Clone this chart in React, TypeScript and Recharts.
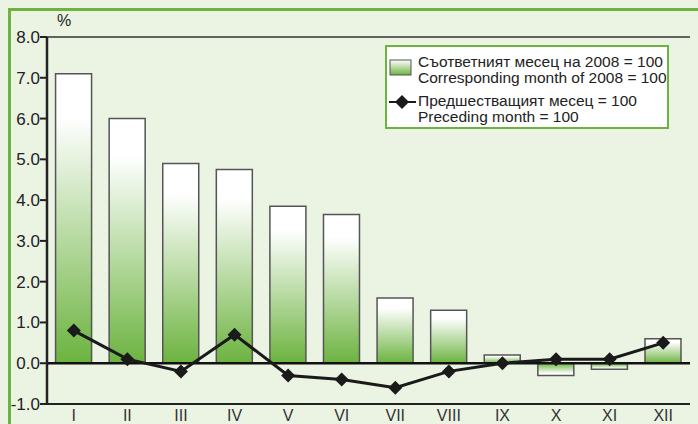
import { Bar, Cell, ComposedChart, CartesianGrid, Line, ReferenceLine, XAxis, YAxis } from 'recharts';

const months = ['I', 'II', 'III', 'IV', 'V', 'VI', 'VII', 'VIII', 'IX', 'X', 'XI', 'XII'];
const corresponding = [7.1, 6.0, 4.9, 4.75, 3.85, 3.65, 1.6, 1.3, 0.2, -0.3, -0.15, 0.6];
const preceding = [0.8, 0.1, -0.2, 0.7, -0.3, -0.4, -0.6, -0.2, 0.0, 0.1, 0.1, 0.5];
const yTicks = [-1, 0, 1, 2, 3, 4, 5, 6, 7, 8];

const legendBg = 'Съответният месец на 2008 = 100';
const legendEn = 'Corresponding month of 2008 = 100';
const legendBg2 = 'Предшестващият месец = 100';
const legendEn2 = 'Preceding month = 100';

const chartData = months.map((m, i) => ({ month: m, corr: corresponding[i], prev: preceding[i] }));

const GREEN = '#6cb33f';
const FONT = '"Liberation Sans", Arial, sans-serif';

function Diamond(props: any) {
  const { cx, cy } = props;
  if (cx == null || cy == null) return null;
  const r = 7;
  return <polygon points={`${cx},${cy - r} ${cx + r},${cy} ${cx},${cy + r} ${cx - r},${cy}`} fill="#1a1a1a" />;
}

function LegendBox() {
  return (
    <div
      style={{
        position: 'absolute',
        left: 385,
        top: 45,
        width: 280,
        height: 80,
        background: '#fff',
        border: `2px solid ${GREEN}`,
        fontFamily: FONT,
        fontSize: 15.5,
        color: '#222',
        lineHeight: '16px',
      }}
    >
      <svg width={32} height={80} style={{ position: 'absolute', left: 0, top: 0 }}>
        <defs>
          <linearGradient id="lg" x1="0" y1="0" x2="0" y2="1">
            <stop offset="0%" stopColor="#ffffff" />
            <stop offset="100%" stopColor={GREEN} />
          </linearGradient>
        </defs>
        <rect x={3} y={13} width={21} height={15} fill="url(#lg)" stroke="#555" strokeWidth={1} />
        <line x1={2} y1={55} x2={29} y2={55} stroke="#1a1a1a" strokeWidth={2} />
        <polygon points="15,48 22,55 15,62 8,55" fill="#1a1a1a" />
      </svg>
      <div style={{ position: 'absolute', left: 31, top: 7, whiteSpace: 'nowrap' }}>
        <div>{legendBg}</div>
        <div>{legendEn}</div>
      </div>
      <div style={{ position: 'absolute', left: 31, top: 46, whiteSpace: 'nowrap' }}>
        <div>{legendBg2}</div>
        <div>{legendEn2}</div>
      </div>
    </div>
  );
}

export default function App() {
  return (
    <div
      style={{
        position: 'absolute',
        left: 0,
        top: 0,
        width: 698,
        height: 424,
        background: '#ebf3e3',
        overflow: 'hidden',
        fontFamily: FONT,
      }}
    >
      <div
        style={{
          position: 'absolute',
          left: 8,
          top: 8,
          width: 700,
          height: 430,
          borderTop: `3px solid ${GREEN}`,
          borderLeft: `3px solid ${GREEN}`,
        }}
      />
      <div style={{ position: 'absolute', left: 57, top: 12, fontSize: 16, color: '#222' }}>%</div>
      <ComposedChart
        width={698}
        height={424}
        data={chartData}
        margin={{ top: 37, right: 8, bottom: 0, left: 7 }}
        barCategoryGap="16%"
        style={{ position: 'absolute', left: 0, top: 0 }}
      >
        <defs>
          <linearGradient id="gUp" x1="0" y1="0" x2="0" y2="1">
            <stop offset="0%" stopColor="#ffffff" />
            <stop offset="15%" stopColor="#ffffff" />
            <stop offset="100%" stopColor={GREEN} />
          </linearGradient>
          <linearGradient id="gDown" x1="0" y1="1" x2="0" y2="0">
            <stop offset="0%" stopColor="#ffffff" />
            <stop offset="15%" stopColor="#ffffff" />
            <stop offset="100%" stopColor={GREEN} />
          </linearGradient>
        </defs>
        <CartesianGrid vertical={false} stroke="#333" strokeWidth={1.5} />
        <XAxis
          dataKey="month"
          height={20}
          tickLine={false}
          axisLine={{ stroke: '#222', strokeWidth: 2 }}
          tick={{ fontSize: 16, fill: '#333', fontFamily: FONT }}
          tickMargin={0}
        />
        <YAxis
          yAxisId="l"
          domain={[-1, 8]}
          ticks={yTicks}
          width={40}
          interval={0}
          tickFormatter={(v: number) => v.toFixed(1)}
          tick={{ fontSize: 17, fill: '#222', fontFamily: FONT }}
          tickLine={{ stroke: '#222', strokeWidth: 2 }}
          tickSize={7}
          tickMargin={0}
          axisLine={{ stroke: '#222', strokeWidth: 2.5 }}
        />
        <YAxis
          yAxisId="r"
          orientation="right"
          domain={[-1, 8]}
          ticks={yTicks}
          width={0}
          tick={false}
          tickLine={false}
          axisLine={{ stroke: '#333', strokeWidth: 1.5 }}
        />
        <Bar yAxisId="l" dataKey="corr" stroke="#555" strokeWidth={1.5} isAnimationActive={false}>
          {chartData.map((d, i) => (
            <Cell key={i} fill={d.corr >= 0 ? 'url(#gUp)' : 'url(#gDown)'} />
          ))}
        </Bar>
        <ReferenceLine yAxisId="l" y={0} stroke="#111" strokeWidth={2.5} />
        <Line
          yAxisId="l"
          dataKey="prev"
          stroke="#1a1a1a"
          strokeWidth={3}
          dot={<Diamond />}
          activeDot={false}
          isAnimationActive={false}
        />
      </ComposedChart>
      <LegendBox />
    </div>
  );
}
